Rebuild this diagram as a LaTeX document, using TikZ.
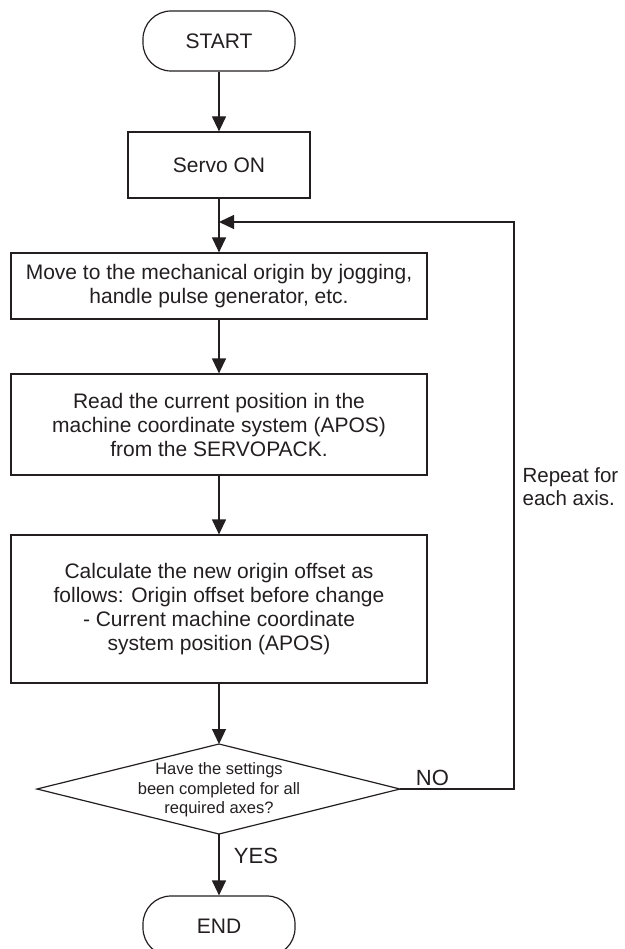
\documentclass[tikz,border=0pt]{standalone}
\usepackage{fontspec}
\setmainfont{Liberation Sans}
\usetikzlibrary{arrows.meta}
\definecolor{ink}{HTML}{231F20}
\begin{document}
\begin{tikzpicture}[x=1pt,y=-1pt,
  line width=1.2pt, draw=ink,
  every node/.style={text=ink},
  boxtext/.style={font=\fontsize{21}{24}\selectfont, align=center},
  procbox/.style={boxtext, draw=ink, line width=1.2pt, inner sep=0pt, minimum width=416pt},
  termbox/.style={boxtext, draw=ink, line width=1.2pt, inner sep=0pt, minimum width=152pt, minimum height=60pt, rounded corners=28pt},
  flow/.style={draw=ink, line width=1.2pt, -{Triangle[length=15pt,width=14pt]}},
  lbl/.style={font=\fontsize{22}{24}\selectfont},
  dtext/.style={font=\fontsize{16.5}{19.5}\selectfont, align=center}
]
\useasboundingbox (0,0) rectangle (624,949);

\node[termbox] (start) at (219,41) {START};
\node[procbox, minimum width=182pt, minimum height=66pt] (servo) at (219,165) {Servo ON};
\node[procbox, minimum height=66pt] (move) at (219,286) {Move to the mechanical origin by jogging,\\handle pulse generator, etc.};
\node[procbox, minimum height=101pt] (read) at (219,424.5) {Read the current position in the\\machine coordinate system (APOS)\\from the SERVOPACK.};
\node[procbox, minimum height=148pt] (calc) at (219,609) {Calculate the new origin offset as\\follows: Origin offset before change\\- Current machine coordinate\\system position (APOS)};

\coordinate (diaT) at (219,744);
\coordinate (diaB) at (219,834);
\coordinate (diaL) at (37,789);
\coordinate (diaR) at (400,789);
\draw[line width=1.2pt, draw=ink] (diaT) -- (diaR) -- (diaB) -- (diaL) -- cycle;
\node[dtext] (dia) at (219,790) {Have the settings\\been completed for all\\required axes?};

\node[termbox] (end) at (219,926) {END};

\coordinate (join) at (219,222);
\coordinate (loopTop) at (514,222);

\draw[flow] (start) -- (servo);
\draw[flow] (servo) -- (move);
\draw[flow] (move) -- (read);
\draw[flow] (read) -- (calc);
\draw[flow] (calc) -- (diaT);
\draw[flow] (diaB) -- (end);
\draw[flow] (diaR) -| (loopTop) -- (join);

\node[lbl, anchor=west] (no) at (412,778) {NO};
\node[lbl, anchor=west] (yes) at (230,856) {YES};
\node[font=\fontsize{20.5}{23}\selectfont, align=left, anchor=west, inner sep=0pt] (rep) at (522,487) {Repeat for\\each axis.};
\end{tikzpicture}
\end{document}
